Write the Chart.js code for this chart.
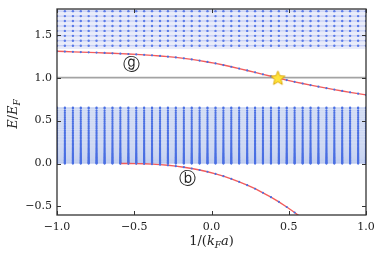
<!DOCTYPE html>
<html><head><meta charset="utf-8">
<script src="https://cdn.jsdelivr.net/npm/chart.js@4/dist/chart.umd.min.js"></script>
<style>html,body{margin:0;padding:0;background:#fff}#wrap{width:381px;height:256px}</style>
</head><body><div id="wrap"><canvas id="c" width="381" height="256"></canvas></div>
<script>
// ---------- data ----------
const xGrid = [-1.000,-0.949,-0.897,-0.846,-0.795,-0.744,-0.692,-0.641,-0.590,-0.538,
  -0.487,-0.436,-0.385,-0.333,-0.282,-0.231,-0.179,-0.128,-0.077,-0.026,
  0.026,0.077,0.128,0.179,0.231,0.282,0.333,0.385,0.436,0.487,
  0.538,0.590,0.641,0.692,0.744,0.795,0.846,0.897,0.949,1.000];
// state (g) energy
const curveG = [1.307,1.304,1.301,1.298,1.295,1.292,1.288,1.284,1.280,1.276,
  1.271,1.266,1.260,1.253,1.245,1.236,1.225,1.213,1.199,1.183,
  1.166,1.147,1.127,1.106,1.084,1.062,1.039,1.016,0.993,0.972,
  0.951,0.932,0.913,0.895,0.878,0.861,0.845,0.829,0.814,0.799];
// state (b) energy
const curveBx = [-0.590,-0.538,-0.487,-0.436,-0.385,-0.333,-0.282,-0.231,-0.179,-0.128,
  -0.077,-0.026,0.026,0.077,0.128,0.179,0.231,0.282,0.333,0.385,0.436,0.487,0.538,0.590,0.641];
const curveBy = [0.000,-0.0003,-0.0014,-0.0037,-0.0075,-0.0132,-0.0207,-0.0306,-0.043,-0.058,
  -0.0757,-0.0963,-0.121,-0.148,-0.179,-0.213,-0.252,-0.294,-0.341,-0.392,-0.447,-0.507,-0.571,-0.641,-0.715];
// continuum levels
const lowerLevels = [0.000,0.006,0.013,0.020,0.028,0.036,0.045,0.054,0.064,0.074,0.085,0.096,0.108,0.120,
  0.133,0.146,0.160,0.174,0.189,0.204,0.220,0.236,0.253,0.270,0.288,0.306,0.325,0.344,0.364,0.384,
  0.405,0.426,0.448,0.470,0.493,0.516,0.540,0.564,0.589,0.614,0.640,0.652];
const upperLevels = [1.372,1.430,1.487,1.545,1.602,1.660,1.717,1.775,1.832];
const lowerBand = [0.0, 0.655];
const upperBand = [1.335, 1.85];
const refLine = 1.0;
const starPoint = {x:0.43, y:1.0};
const xTicks = [-1.0,-0.5,0.0,0.5,1.0];
const yTicks = [-0.5,0.0,0.5,1.0,1.5];
const stateLabels = [{text:'\u24D6', x:-0.517, y:1.146},{text:'\u24D1', x:-0.158, y:-0.187}];

// ---------- helpers ----------
function starCanvas(size, fill, stroke){
  const c=document.createElement('canvas'); c.width=c.height=size; const g=c.getContext('2d');
  const cx=size/2, cy=size/2+0.8, R=size/2-1, r=R*0.45;
  g.beginPath();
  for(let i=0;i<10;i++){const a=-Math.PI/2+i*Math.PI/5; const rr=i%2?r:R; g.lineTo(cx+rr*Math.cos(a), cy+rr*Math.sin(a));}
  g.closePath(); g.fillStyle=fill; g.fill(); g.strokeStyle=stroke; g.lineWidth=0.9; g.stroke();
  return c;
}
const fmt = v => (v<0?'\u2212':'') + Math.abs(v).toFixed(1);
const BLUE = '#4a6fe3';
const RED = '#f25c5c';

const datasets = [];
datasets.push({type:'scatter', data:[starPoint], pointStyle:starCanvas(17,'#ffe33a','#d9a300'), pointRadius:8, order:0});
datasets.push({type:'line', data:xGrid.map((x,i)=>({x, y:curveG[i]})), borderColor:RED, borderWidth:1.4,
  pointRadius:1.1, pointBackgroundColor:BLUE, pointBorderWidth:0, order:1});
datasets.push({type:'line', data:curveBx.map((x,i)=>({x, y:curveBy[i]})), borderColor:RED, borderWidth:1.4,
  pointRadius:1.1, pointBackgroundColor:BLUE, pointBorderWidth:0, order:1});
datasets.push({type:'line', data:[{x:-1,y:refLine},{x:1,y:refLine}], borderColor:'#a3a3a3', borderWidth:1.6, pointRadius:0, order:2});
upperLevels.forEach(l=>{
  datasets.push({type:'line', data:xGrid.map(x=>({x,y:l})), borderColor:'rgba(110,130,230,0.35)', borderWidth:1,
    pointRadius:1.2, pointBackgroundColor:'#5a7ae8', pointBorderWidth:0, order:3});
});
lowerLevels.forEach(l=>{
  datasets.push({type:'line', data:xGrid.map(x=>({x,y:l})), borderColor:'rgba(90,120,220,0.13)', borderWidth:1,
    pointRadius:1.15, pointBackgroundColor:BLUE, pointBorderWidth:0, order:3});
});
datasets.push({type:'line', data:[{x:-1,y:upperBand[1]},{x:1,y:upperBand[1]}], borderWidth:0, pointRadius:0,
  fill:{value:upperBand[0]}, backgroundColor:'#e9ecfa', order:9});
datasets.push({type:'line', data:[{x:-1,y:lowerBand[1]},{x:1,y:lowerBand[1]}], borderWidth:0, pointRadius:0,
  fill:{value:lowerBand[0]}, backgroundColor:'#dbe3f6', order:9});

const SERIF = '"DejaVu Serif", serif';

const framePlugin = {
  id:'frame',
  afterDatasetsDraw(chart){
    const {ctx, chartArea:a, scales:{x,y}} = chart;
    ctx.save();
    // state labels
    ctx.fillStyle='#222'; ctx.font='17px "DejaVu Sans"'; ctx.textAlign='center'; ctx.textBaseline='middle';
    stateLabels.forEach(s=>ctx.fillText(s.text, x.getPixelForValue(s.x), y.getPixelForValue(s.y)));
    ctx.strokeStyle='#333'; ctx.lineWidth=1;
    ctx.beginPath();
    xTicks.forEach(v=>{const p=Math.round(x.getPixelForValue(v))+0.5;
      ctx.moveTo(p,a.bottom); ctx.lineTo(p,a.bottom-4); ctx.moveTo(p,a.top); ctx.lineTo(p,a.top+4);});
    yTicks.forEach(v=>{const p=Math.round(y.getPixelForValue(v))+0.5;
      ctx.moveTo(a.left,p); ctx.lineTo(a.left+4,p); ctx.moveTo(a.right,p); ctx.lineTo(a.right-4,p);});
    ctx.stroke();
    ctx.lineWidth=1.3;
    ctx.strokeRect(a.left, a.top, a.right-a.left, a.bottom-a.top);
    // tick labels
    ctx.fillStyle='#222'; ctx.font='11px '+SERIF;
    ctx.textAlign='center'; ctx.textBaseline='middle';
    xTicks.forEach(v=>ctx.fillText(fmt(v), x.getPixelForValue(v), a.bottom+12));
    ctx.textAlign='right';
    yTicks.forEach(v=>ctx.fillText(fmt(v), a.left-5, y.getPixelForValue(v)));
    // axis titles
    function drawRich(parts, cx, cy){
      let w=0; parts.forEach(p=>{ctx.font=p.f; p.w=ctx.measureText(p.t).width; w+=p.w;});
      let xx=cx-w/2; ctx.textAlign='left'; ctx.textBaseline='alphabetic';
      parts.forEach(p=>{ctx.font=p.f; ctx.fillText(p.t, xx, cy+(p.dy||0)); xx+=p.w;});
    }
    drawRich([{t:'1/(',f:'13px '+SERIF},{t:'k',f:'italic 13px '+SERIF},{t:'F',f:'italic 9px '+SERIF,dy:2.5},
      {t:'a',f:'italic 13px '+SERIF},{t:')',f:'13px '+SERIF}], (a.left+a.right)/2, 245);
    ctx.save(); ctx.translate(17,(a.top+a.bottom)/2+2); ctx.rotate(-Math.PI/2);
    drawRich([{t:'E',f:'italic 13px '+SERIF},{t:'/',f:'13px '+SERIF},{t:'E',f:'italic 13px '+SERIF},{t:'F',f:'italic 9px '+SERIF,dy:2.5}], 0, 0);
    ctx.restore();
    ctx.restore();
  }
};

new Chart(document.getElementById('c'), {
  data:{datasets},
  options:{
    responsive:false, animation:false, devicePixelRatio:1,
    layout:{padding:{top:6,right:15,left:57,bottom:41}},
    plugins:{legend:{display:false}, tooltip:{enabled:false}},
    scales:{
      x:{type:'linear', min:-1, max:1, display:false},
      y:{type:'linear', min:-0.6, max:1.8, display:false}
    }
  },
  plugins:[framePlugin]
});
</script></body></html>
